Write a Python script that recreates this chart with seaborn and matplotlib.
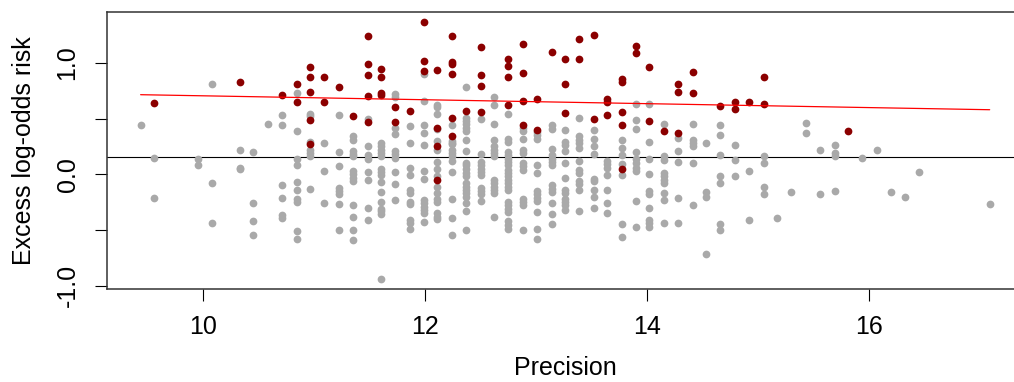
import matplotlib
matplotlib.use("Agg")
import matplotlib.pyplot as plt
import seaborn as sns
import pandas as pd

# ---------------- data ----------------
gray_cols = {
    9.44: [0.44],
    9.56: [0.15, -0.21],
    9.95: [0.14, 0.08],
    10.08: [0.81, -0.08, -0.44],
    10.33: [0.22, 0.06, 0.05],
    10.45: [0.20, -0.26, -0.42, -0.55],
    10.58: [0.45],
    10.71: [0.53, 0.44, -0.10, -0.21, -0.37, -0.39],
    10.84: [0.73, 0.39, 0.14, 0.08, -0.07, -0.14, -0.22, -0.25, -0.51, -0.58],
    10.96: [0.54, 0.52, 0.29, 0.22, 0.19, 0.16, -0.13],
    11.09: [0.28, 0.03, -0.26],
    11.22: [0.53, 0.20, 0.07, -0.12, -0.15, -0.18, -0.27, -0.50],
    11.35: [0.34, 0.31, 0.21, 0.18, 0.16, 0.03, 0.00, -0.03, -0.06, -0.28, -0.38, -0.50, -0.59],
    11.48: [0.50, 0.25, 0.17, 0.14, 0.02, -0.05, -0.30, -0.41],
    11.60: [0.28, 0.25, 0.22, 0.19, 0.16, 0.05, 0.02, -0.01, -0.07, -0.16, -0.25, -0.31, -0.33, -0.36, -0.94],
    11.73: [0.72, 0.69, 0.42, 0.36, 0.21, 0.18, 0.15, 0.02, -0.09, -0.23],
    11.86: [0.43, 0.28, 0.06, -0.01, -0.14, -0.17, -0.25, -0.27, -0.41, -0.44, -0.49],
    11.99: [0.90, 0.66, 0.44, 0.37, 0.26, 0.03, -0.04, -0.23, -0.26, -0.29, -0.32, -0.35, -0.43],
    12.11: [0.62, 0.60, 0.54, 0.41, 0.30, 0.22, 0.11, 0.05, -0.02, -0.11, -0.17, -0.22, -0.25, -0.35, -0.38, -0.40],
    12.24: [0.44, 0.30, 0.28, 0.27, 0.22, 0.19, 0.16, 0.12, 0.02, -0.22, -0.39, -0.55],
    12.37: [0.78, 0.51, 0.48, 0.45, 0.42, 0.39, 0.31, 0.21, 0.10, 0.08, 0.05, 0.01, -0.02, -0.08, -0.11, -0.14, -0.17, -0.20, -0.26, -0.33, -0.50],
    12.50: [0.50, 0.18, 0.11, 0.08, 0.05, 0.02, -0.01, -0.12, -0.15, -0.18, -0.24],
    12.62: [0.69, 0.62, 0.45, 0.31, 0.25, 0.22, 0.19, 0.16, -0.05, -0.08, -0.11, -0.14, -0.17, -0.38],
    12.75: [0.54, 0.32, 0.29, 0.20, 0.17, 0.14, 0.11, 0.08, 0.04, 0.01, -0.02, -0.05, -0.08, -0.11, -0.14, -0.25, -0.28, -0.31, -0.34, -0.42, -0.46, -0.49],
    12.88: [0.42, 0.39, 0.32, 0.22, 0.19, 0.10, 0.07, 0.04, -0.22, -0.25, -0.28, -0.50],
    13.01: [0.38, 0.35, 0.32, 0.08, 0.01, -0.15, -0.18, -0.21, -0.24, -0.34, -0.49, -0.58],
    13.14: [0.44, 0.41, 0.23, 0.17, 0.14, 0.11, 0.08, -0.10, -0.13, -0.16, -0.26, -0.36, -0.45],
    13.26: [0.40, 0.29, 0.26, 0.21, 0.10, -0.03, -0.14, -0.17, -0.22, -0.25, -0.28, -0.32],
    13.39: [0.51, 0.34, 0.31, 0.28, 0.24, 0.12, 0.04, 0.01, -0.06, -0.09, -0.14, -0.33],
    13.52: [0.40, 0.32, 0.25, 0.18, -0.04, -0.06, -0.14, -0.20, -0.30],
    13.64: [0.12, 0.09, 0.06, -0.01, -0.14, -0.26, -0.35],
    13.77: [0.31, 0.24, 0.17, 0.09, -0.01, -0.45, -0.56],
    13.90: [0.63, 0.49, 0.41, 0.20, 0.14, 0.10, 0.06, 0.03, -0.24, -0.47],
    14.02: [0.63, 0.29, 0.14, 0.00, -0.15, -0.18, -0.30, -0.41, -0.44, -0.47],
    14.15: [0.45, 0.16, 0.13, 0.01, -0.02, -0.05, -0.08, -0.17, -0.23, -0.44],
    14.28: [0.33, 0.21, 0.11, -0.21, -0.44],
    14.41: [0.45, 0.31, 0.28, 0.25, 0.10, -0.28],
    14.53: [0.28, -0.16, -0.20, -0.72],
    14.66: [0.44, 0.35, 0.17, -0.02, -0.08, -0.45, -0.50],
    14.79: [0.26, 0.13, -0.02],
    14.92: [0.03, -0.41],
    15.05: [0.16, 0.10, -0.11, -0.18],
    15.17: [-0.39],
    15.30: [-0.16],
    15.43: [0.46, 0.37],
    15.56: [0.22, -0.18],
    15.69: [0.26, 0.19, 0.16, -0.15],
    15.94: [0.15],
    16.07: [0.22],
    16.20: [-0.16],
    16.32: [-0.20],
    16.45: [0.02],
    17.09: [-0.27],
}

red_cols = {
    9.56: [0.64],
    10.33: [0.83],
    10.71: [0.71],
    10.84: [0.81, 0.65],
    10.96: [0.96, 0.87, 0.74, 0.49, 0.27],
    11.09: [0.87, 0.65],
    11.22: [0.78],
    11.35: [0.52],
    11.48: [1.24, 0.99, 0.89, 0.70, 0.47],
    11.60: [0.95, 0.87, 0.73, 0.71],
    11.73: [0.60, 0.47],
    11.86: [0.57],
    11.99: [1.37, 1.02, 0.93],
    12.11: [0.94, 0.42, 0.25, -0.05],
    12.24: [1.24, 1.01, 0.99, 0.90, 0.51, 0.34],
    12.37: [0.57],
    12.50: [1.14, 0.89, 0.79, 0.56],
    12.75: [1.04, 0.97, 0.87, 0.62],
    12.88: [1.17, 0.91, 0.66, 0.44],
    13.01: [0.68, 0.40],
    13.14: [1.10],
    13.26: [1.04, 0.81, 0.55],
    13.39: [1.22, 1.04],
    13.52: [1.25, 0.50],
    13.64: [0.68, 0.65, 0.53],
    13.77: [0.86, 0.83, 0.56, 0.44, 0.05],
    13.90: [1.15, 1.09],
    14.02: [0.96, 0.48],
    14.15: [0.39],
    14.28: [0.81, 0.74, 0.37],
    14.41: [0.92, 0.73],
    14.66: [0.61],
    14.79: [0.65, 0.59],
    14.92: [0.65],
    15.05: [0.87, 0.63],
    15.81: [0.39],
}

line_x = [9.435, 17.087]
line_y = [0.715, 0.580]
hline_y = 0.153

x_ticks = [10, 12, 14, 16]
x_ticklabels = ["10", "12", "14", "16"]
y_ticks = [-1.0, -0.5, 0.0, 0.5, 1.0]
y_ticklabels = ["-1.0", "", "0.0", "", "1.0"]
x_label = "Precision"
y_label = "Excess log-odds risk"

# ---------------- build frames ----------------
gray_df = pd.DataFrame([(x, y) for x, ys in gray_cols.items() for y in ys], columns=["x", "y"])
red_df = pd.DataFrame([(x, y) for x, ys in red_cols.items() for y in ys], columns=["x", "y"])

sns.set_style("ticks")
plt.rcParams["font.family"] = ["Liberation Sans", "DejaVu Sans"]
plt.rcParams["text.color"] = "black"
plt.rcParams["axes.labelcolor"] = "black"

fig = plt.figure(figsize=(10.14, 3.82), dpi=100)
ax = fig.add_axes([0.1052, 0.2435, 0.9043, 0.7259])

GRAY = "#A9A9A9"
DARKRED = "#8B0000"

sns.scatterplot(data=gray_df, x="x", y="y", color=GRAY, s=31, linewidth=0, ax=ax, zorder=2)
sns.scatterplot(data=red_df, x="x", y="y", color=DARKRED, s=31, linewidth=0, ax=ax, zorder=3)
sns.lineplot(x=line_x, y=line_y, color="#FF0000", linewidth=0.9, ax=ax, zorder=4)
ax.axhline(hline_y, color="black", linewidth=0.8, zorder=1)

ax.set_xlim(9.129, 17.393)
ax.set_ylim(-1.031, 1.461)

ax.set_xticks(x_ticks)
ax.set_xticklabels(x_ticklabels)
ax.set_yticks(y_ticks)
ax.set_yticklabels(y_ticklabels, rotation=90, va="center")

ax.tick_params(axis="both", direction="out", length=8.5, width=0.8, colors="black",
               labelsize=18, labelcolor="black")
ax.tick_params(axis="x", pad=10)
ax.tick_params(axis="y", pad=11)

for sp in ax.spines.values():
    sp.set_visible(True)
    sp.set_linewidth(1.1)
    sp.set_color("#333333")

ax.set_xlabel(x_label, fontsize=18, va="center", color="black")
ax.set_ylabel(y_label, fontsize=18, va="center", color="black")
ax.xaxis.set_label_coords(0.5, -0.285)
ax.yaxis.set_label_coords(-0.0905, 0.5)

fig.savefig("out.png", dpi=100)
